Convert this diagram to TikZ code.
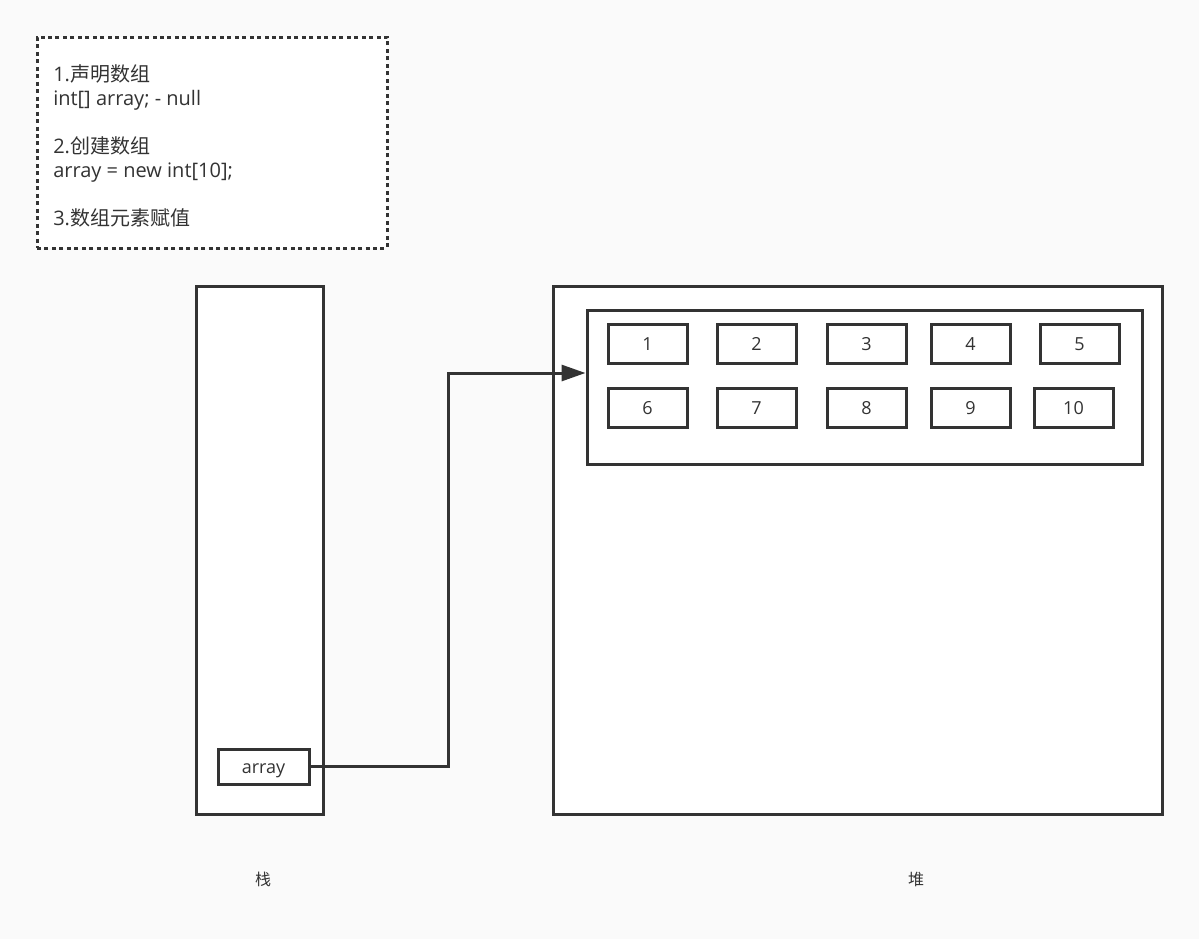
\documentclass[tikz,border=0pt]{standalone}
\usepackage{fontspec}
\setmainfont{Open Sans}
\newfontfamily\cjk{Noto Sans CJK SC}
\usetikzlibrary{arrows.meta}
\definecolor{bg}{HTML}{FAFAFA}
\definecolor{ln}{HTML}{333333}
\tikzset{
  box/.style={draw=ln, line width=2.25pt, fill=white},
  cell/.style={draw=ln, line width=2.25pt, fill=white, minimum width=59.25pt, minimum height=29.25pt, inner sep=0pt, font=\fontsize{13.5}{16}\selectfont, text=ln, text height=1.15em, text depth=0.1em},
  lbl/.style={font=\fontsize{12}{14}\selectfont\cjk, text=ln},
  note/.style={anchor=base west, inner sep=0pt, font=\fontsize{15}{18}\selectfont, text=ln},
}
\begin{document}
\begin{tikzpicture}[x=0.75pt,y=-0.75pt]
\fill[bg] (0,0) rectangle (1199,939);
\useasboundingbox (0,0) rectangle (1199,939);
% note box
\node[draw=ln, line width=2.25pt, dash pattern=on 3pt off 2.6pt, fill=white, minimum width=262.5pt, minimum height=158.25pt, inner sep=0pt] (note) at (212,142.5) {};
\node[note] (n1) at (53,81) {1.{\cjk 声明数组}};
\node[note] (n2) at (53,105) {int[] array; - null};
\node[note] (n3) at (53,153) {2.{\cjk 创建数组}};
\node[note] (n4) at (53,177) {array = new int[10];};
\node[note] (n5) at (53,225) {3.{\cjk 数组元素赋值}};
% stack
\node[box, minimum width=95.25pt, minimum height=396pt, inner sep=0pt] (stack) at (259.5,550) {};
\node[cell, minimum width=68.25pt, minimum height=26.25pt] (arr) at (263.5,766.5) {array};
% heap
\node[box, minimum width=456.75pt, minimum height=396pt, inner sep=0pt] (heap) at (857.5,550) {};
\node[box, minimum width=416.25pt, minimum height=115.5pt, inner sep=0pt] (inner) at (864.5,387) {};
\node[cell] (c1) at (647.5,343.5) {1};
\node[cell] (c2) at (756.5,343.5) {2};
\node[cell] (c3) at (866.5,343.5) {3};
\node[cell] (c4) at (970.5,343.5) {4};
\node[cell] (c5) at (1079.5,343.5) {5};
\node[cell] (c6) at (647.5,407.5) {6};
\node[cell] (c7) at (756.5,407.5) {7};
\node[cell] (c8) at (866.5,407.5) {8};
\node[cell] (c9) at (970.5,407.5) {9};
\node[cell] (c10) at (1073.5,407.5) {10};
% arrow
\coordinate (tip) at (inner.west |- 0,373);
\draw[ln, line width=2.25pt, -{Triangle[length=18pt,width=12pt]}] (arr.east) -| (448,373) -- (tip);
% labels
\node[lbl] (stacklbl) at (263,879) {栈};
\node[lbl] (heaplbl) at (916,879) {堆};
\end{tikzpicture}
\end{document}
